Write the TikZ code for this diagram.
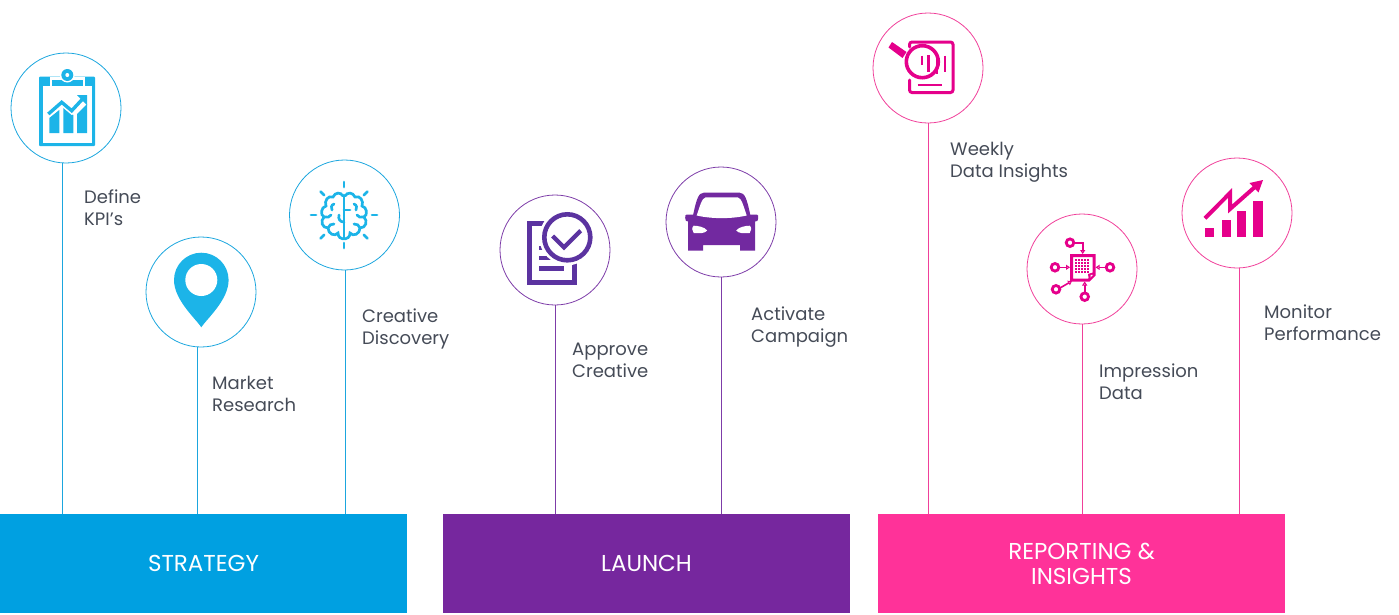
\documentclass[tikz,border=0pt]{standalone}
\usepackage{fontspec}
\setmainfont{Poppins}
\usetikzlibrary{arrows.meta}
\definecolor{stratbar}{HTML}{00A0E1}
\definecolor{launchbar}{HTML}{76279E}
\definecolor{reportbar}{HTML}{FF3299}
\definecolor{stratline}{HTML}{1BA6DE}
\definecolor{launchline}{HTML}{7D3CA8}
\definecolor{reportline}{HTML}{F0409A}
\definecolor{stratico}{HTML}{1CB4E8}
\definecolor{docico}{HTML}{5B33A0}
\definecolor{carico}{HTML}{7229A0}
\definecolor{reportico}{HTML}{E5008B}
\definecolor{labeltext}{HTML}{454B57}

\begin{document}
\begin{tikzpicture}[
    x=1pt, y=-1pt,
    bar/.style={rectangle, minimum width=407pt, minimum height=99pt, inner sep=0pt, align=center, text=white, font=\fontsize{23}{25}\selectfont},
    pin/.style={circle, draw, line width=0.8pt, minimum size=110pt, inner sep=0pt},
    stem/.style={line width=1pt},
    label/.style={anchor=west, align=left, inner sep=0pt, text=labeltext, font=\fontsize{18}{22}\selectfont}
  ]
  \useasboundingbox (0,0) rectangle (1399,614);

  % Bars
  \node[bar, fill=stratbar] (strategy) at (203.5,563.5) {STRATEGY};
  \node[bar, fill=launchbar] (launch) at (646.5,563.5) {LAUNCH};
  \node[bar, fill=reportbar] (reporting) at (1081.5,563.5) {REPORTING \&\\INSIGHTS};

  % Circles
  \node[pin, draw=stratline] (kpi) at (66,108) {};
  \node[pin, draw=stratline] (market) at (201,292) {};
  \node[pin, draw=stratline] (creative) at (344.5,215) {};
  \node[pin, draw=launchline] (approve) at (555,250) {};
  \node[pin, draw=launchline] (activate) at (721,222) {};
  \node[pin, draw=reportline] (weekly) at (928,68) {};
  \node[pin, draw=reportline] (impression) at (1082,269) {};
  \node[pin, draw=reportline] (monitor) at (1237,213) {};

  % Stems
  \draw[stem, stratline] (kpi.266) -- (kpi.266 |- strategy.north);
  \draw[stem, stratline] (market.266) -- (market.266 |- strategy.north);
  \draw[stem, stratline] (creative.271) -- (creative.271 |- strategy.north);
  \draw[stem, launchline] (approve.270) -- (approve.270 |- launch.north);
  \draw[stem, launchline] (activate.270) -- (activate.270 |- launch.north);
  \draw[stem, reportline] (weekly.270) -- (weekly.270 |- reporting.north);
  \draw[stem, reportline] (impression.270) -- (impression.270 |- reporting.north);
  \draw[stem, reportline] (monitor.273) -- (monitor.273 |- reporting.north);

  % Labels
  \node[label] (kpitext) at (84,208) {Define\\KPI’s};
  \node[label] (markettext) at (212,394) {Market\\Research};
  \node[label] (creativetext) at (362,329) {Creative\\Discovery};
  \node[label] (approvetext) at (572,360.5) {Approve\\Creative};
  \node[label] (activatetext) at (751,327) {Activate\\Campaign};
  \node[label] (weeklytext) at (950,162) {Weekly\\Data Insights};
  \node[label] (impressiontext) at (1099,382) {Impression\\Data};
  \node[label] (monitortext) at (1264,323) {Monitor\\Performance};

  % Clipboard icon
  \fill[stratico, rounded corners=1pt] (39,76.5) rectangle (95,146);
  \fill[white] (42.5,85.5) rectangle (92,142.5);
  \fill[white] (49.5,76.5) rectangle (85,88);
  \fill[stratico] (52,80) rectangle (83,86);
  \fill[white] (67.3,75) circle (7.5);
  \fill[stratico] (67.3,75) circle (6);
  \fill[white] (67.3,75) circle (2);
  \fill[stratico] (49.3,133) -- (59.3,133) -- (59.3,110) -- (49.3,118) -- cycle;
  \fill[stratico] (63.3,133) -- (73.3,133) -- (73.3,115) -- (63.3,107) -- cycle;
  \fill[stratico] (77,133) -- (87,133) -- (87,104) -- (77,114) -- cycle;
  \draw[white, line width=6.5pt] (48.3,114) -- (61.7,102.3) -- (71.7,110.7) -- (83,98.5);
  \draw[stratico, line width=3.4pt] (48.3,114) -- (61.7,102.3) -- (71.7,110.7) -- (83,98.5);
  \fill[stratico] (87,95) -- (87,105) -- (77,95) -- cycle;

  % Map pin icon
  \fill[stratico] (201.3,327.3) .. controls (196,319) and (174,300) .. (174,280)
    arc[start angle=180, end angle=360, radius=27.3] .. controls (228.6,300) and (206.6,319) .. (201.3,327.3) -- cycle;
  \fill[white] (201.3,280) circle (16);

  % Brain icon
  \begin{scope}[shift={(344,215)}, stratico, line width=2.7pt, line cap=round]
    \foreach \ang in {0,45,...,315} {
      \draw (\ang:28pt) -- (\ang:33pt);
    }
    \foreach \side in {1,-1} {
      \begin{scope}[xscale=\side]
        \draw (1,-19) .. controls (3,-23) and (9,-23) .. (11,-18) .. controls (16,-20) and (20,-14) .. (18,-9)
          .. controls (23,-8) and (24,0) .. (20,2) .. controls (24,6) and (22,13) .. (16,13)
          .. controls (16,19) and (9,22) .. (6,18) .. controls (6,22) and (3,24) .. (1,24);
        \draw (10,-11) .. controls (13,-10) and (13,-7) .. (12,-5);
        \draw (20,2) .. controls (17,3) and (14,2) .. (13,0);
        \draw (16,13) .. controls (15,10) and (13,9) .. (10,9);
      \end{scope}
    }
    \draw (0,-20) -- (0,24);
    \draw (0,-5) -- (6,-5);
    \draw (0,7) .. controls (-4,7) and (-6,4) .. (-5,0);
  \end{scope}

  % Document icon
  \draw[docico, line width=4.6pt] (529.3,223.3) rectangle (574.5,282.7);
  \draw[docico, line width=4.6pt] (539.3,248) -- (560,248);
  \draw[docico, line width=4.6pt] (539.3,258) -- (560,258);
  \draw[docico, line width=4.6pt] (539.3,268.3) -- (564,268.3);
  \fill[white] (567.3,237.3) circle (28);
  \draw[docico, line width=4.6pt] (567.3,237.3) circle (23);
  \draw[docico, line width=4.2pt] (552.7,236) -- (564,247.3) -- (580.7,230.7);

  % Car icon
  \begin{scope}[shift={(721.7,0)}]
    \fill[carico] (-18,192.7) -- (18,192.7) .. controls (23,193) and (25,198) .. (28.5,214.5)
      -- (35,214.5) .. controls (36.5,214.5) and (36.5,216) .. (36.5,218) .. controls (36.5,221) and (35.5,221.5) .. (33.5,221.5)
      -- (33.5,250.7) -- (18.5,250.7) -- (18.5,245) -- (-18.5,245)
      -- (-18.5,250.7) -- (-33.5,250.7) -- (-33.5,221.5) .. controls (-35.5,221.5) and (-36.5,221) .. (-36.5,218)
      .. controls (-36.5,216) and (-36.5,214.5) .. (-35,214.5) -- (-28.5,214.5)
      .. controls (-25,198) and (-23,193) .. (-18,192.7) -- cycle;
    \fill[white] (-16,197.3) -- (16,197.3) .. controls (20,198) and (22,207) .. (25,215.5)
      .. controls (10,219) and (-10,219) .. (-25,215.5) .. controls (-22,207) and (-20,198) .. (-16,197.3) -- cycle;
    \foreach \side in {1,-1} {
      \fill[white] (\side*14.5,230.5) .. controls (\side*17,227) and (\side*24,225.7) .. (\side*28,225.7)
        .. controls (\side*30,227) and (\side*30,231) .. (\side*28,233) .. controls (\side*22,233.5) and (\side*17,233.5) .. (\side*14.5,230.5) -- cycle;
    }
  \end{scope}

  % Magnifier icon
  \draw[reportico, line width=3pt, rounded corners=2.5pt, line cap=round] (909.5,47) -- (909.5,42) -- (953,42) -- (953,92.5) -- (909.5,92.5) -- (909.5,80);
  \draw[reportico, line width=2.6pt] (917.7,85) -- (942.3,85);
  \draw[reportico, line width=3.6pt] (922.3,61.7) circle (16);
  \fill[reportico] (892,42) -- (906.5,52) -- (902.5,58) -- (888.5,47.5) -- cycle;
  \foreach \xpos/\ystart/\yend in {921.7/55.5/65, 928.3/55/71.5, 936.7/53.5/73.5, 945/55.5/71.5} {
    \draw[reportico, line width=2.4pt] (\xpos,\ystart) -- (\xpos,\yend);
  }

  % Data chip icon
  \begin{scope}[reportico, line width=1.6pt]
    \draw[line width=3pt] (1089,280) -- (1071.5,280) -- (1071.5,255.5) -- (1094,255.5) -- (1094,275) -- cycle;
    \fill (1094.5,272) -- (1094.5,275.5) -- (1089,281) -- (1088,274) -- cycle;
    \fill[white] (1090.5,274.8) -- (1093,274.8) -- (1090.5,277.5) -- cycle;
    \foreach \xpos in {1076,1079,1082,1085,1088} {
      \foreach \ypos in {260,263,266,269,272} {
        \fill (\xpos-0.8,\ypos-0.8) rectangle (\xpos+0.8,\ypos+0.8);
      }
    }
    \foreach \xpos/\ypos in {1070/242.7, 1055/267.3, 1056/289.3, 1084.7/296.7, 1110/267.3} {
      \draw[line width=2.8pt] (\xpos,\ypos) circle (3.8);
    }
    \draw[-{Triangle[open,length=4pt,width=5pt]}] (1074,242.7) -- (1082.7,242.7) -- (1082.7,254);
    \draw[-{Triangle[open,length=4pt,width=5pt]}] (1059,267.3) -- (1070,267.3);
    \draw[-{Triangle[open,length=4pt,width=5pt]}] (1060,288) -- (1072,281);
    \draw[-{Triangle[open,length=4pt,width=5pt]}] (1084.7,292.5) -- (1084.7,281.5);
    \draw[-{Triangle[open,length=4pt,width=5pt]}] (1106,267.3) -- (1095.5,267.3);
  \end{scope}

  % Growth chart icon
  \foreach \xpos/\ytop in {1205/228.3, 1221.7/220, 1236.7/211, 1253.3/201.3} {
    \fill[reportico] (\xpos,\ytop) rectangle (\xpos+9.4,237);
  }
  \draw[reportico, line width=4pt] (1205,218.3) -- (1230,193) -- (1230,209) -- (1256,186);
  \fill[reportico] (1263,180) -- (1258.5,192.5) -- (1249.5,183) -- cycle;
\end{tikzpicture}
\end{document}
